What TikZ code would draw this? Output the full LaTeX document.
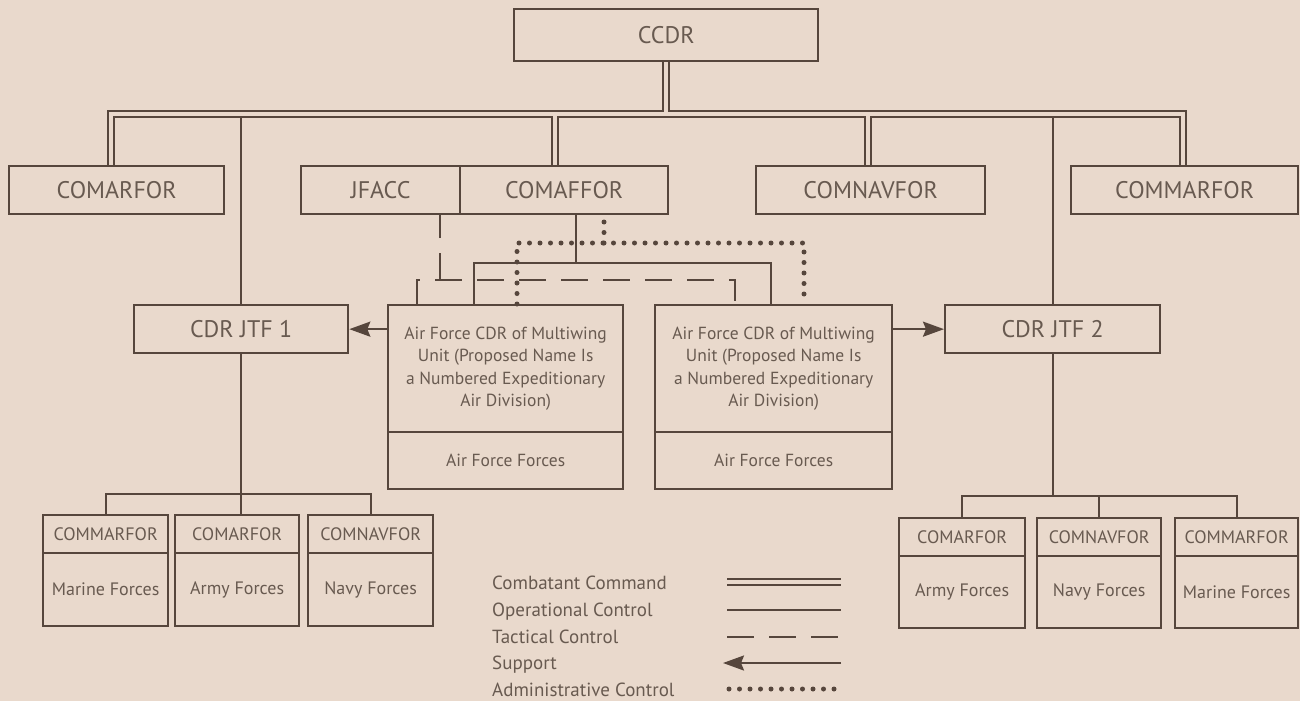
\documentclass[tikz,border=0pt]{standalone}
\usepackage{fontspec}
\setmainfont{PT Sans}
\usetikzlibrary{arrows.meta}
\definecolor{paper}{RGB}{233,217,204}
\definecolor{ink}{RGB}{86,70,60}
\definecolor{txt}{RGB}{104,90,80}
\pgfdeclarelayer{back}
\pgfsetlayers{back,main}
\tikzset{
  box/.style={draw=ink, line width=2.3pt, inner sep=0pt, anchor=north west, align=center, text=txt},
  big/.style={font=\fontsize{24}{28}\selectfont},
  mid/.style={font=\fontsize{17.5}{22.5}\selectfont},
  sml/.style={font=\fontsize{18}{22}\selectfont},
  cmd/.style={draw=ink, line width=2.2pt, double=paper, double distance=3.5pt},
  opc/.style={draw=ink, line width=2.2pt},
  tac/.style={draw=ink, line width=2.2pt, dash pattern=on 27pt off 15pt},
  sup/.style={draw=ink, line width=2.2pt, -{Stealth[length=21pt,width=15pt,inset=3pt]}},
  adm/.style={draw=ink, line width=5pt, line cap=round, dash pattern=on 0pt off 10.5pt},
  legend/.style={anchor=base west, inner sep=0pt, text=txt, font=\fontsize{19}{22}\selectfont},
}
\begin{document}
\begin{tikzpicture}[x=1pt,y=-1pt]
\useasboundingbox (0,0) rectangle (1300,701);

% command level
\node[box,big,minimum width=304pt,minimum height=52pt] (ccdr) at (513,8) {CCDR};
\node[box,big,minimum width=215pt,minimum height=48pt] (comarforT) at (8,165) {COMARFOR};
\node[box,big,minimum width=159pt,minimum height=48pt] (jfacc) at (300,165) {JFACC};
\node[box,big,minimum width=208pt,minimum height=48pt] (comaffor) at (459,165) {COMAFFOR};
\node[box,big,minimum width=229pt,minimum height=48pt] (comnavforT) at (755,165) {COMNAVFOR};
\node[box,big,minimum width=227pt,minimum height=48pt] (commarforT) at (1070,165) {COMMARFOR};

% joint task forces
\node[box,big,minimum width=214pt,minimum height=48pt] (jtf1) at (133,304) {CDR JTF 1};
\node[box,big,minimum width=215pt,minimum height=48pt] (jtf2) at (944,304) {CDR JTF 2};

% air force multiwing units
\node[box,mid,minimum width=235pt,minimum height=127pt] (afc1) at (387,304)
  {Air Force CDR of Multiwing\\Unit (Proposed Name Is\\a Numbered Expeditionary\\Air Division)};
\node[box,mid,minimum width=235pt,minimum height=57pt] (aff1) at (387,431) {Air Force Forces};
\node[box,mid,minimum width=237pt,minimum height=127pt] (afc2) at (654,304)
  {Air Force CDR of Multiwing\\Unit (Proposed Name Is\\a Numbered Expeditionary\\Air Division)};
\node[box,mid,minimum width=237pt,minimum height=57pt] (aff2) at (654,431) {Air Force Forces};

% component forces under JTF 1
\node[box,sml,minimum width=125pt,minimum height=38pt] (lA) at (42,514) {COMMARFOR};
\node[box,sml,minimum width=125pt,minimum height=73pt] (lAf) at (42,552) {Marine Forces};
\node[box,sml,minimum width=124pt,minimum height=38pt] (lB) at (174,514) {COMARFOR};
\node[box,sml,minimum width=124pt,minimum height=73pt] (lBf) at (174,552) {Army Forces};
\node[box,sml,minimum width=125pt,minimum height=38pt] (lC) at (307,514) {COMNAVFOR};
\node[box,sml,minimum width=125pt,minimum height=73pt] (lCf) at (307,552) {Navy Forces};

% component forces under JTF 2
\node[box,sml,minimum width=126pt,minimum height=38pt] (rD) at (898,517) {COMARFOR};
\node[box,sml,minimum width=126pt,minimum height=72pt] (rDf) at (898,555) {Army Forces};
\node[box,sml,minimum width=124pt,minimum height=38pt] (rE) at (1036,517) {COMNAVFOR};
\node[box,sml,minimum width=124pt,minimum height=72pt] (rEf) at (1036,555) {Navy Forces};
\node[box,sml,minimum width=123pt,minimum height=38pt] (rF) at (1174,517) {COMMARFOR};
\node[box,sml,minimum width=123pt,minimum height=72pt] (rFf) at (1174,555) {Marine Forces};

% legend
\node[legend] (lg1) at (492,589) {Combatant Command};
\node[legend] (lg2) at (492,616) {Operational Control};
\node[legend] (lg3) at (492,643) {Tactical Control};
\node[legend] (lg4) at (492,669) {Support};
\node[legend] (lg5) at (492,696) {Administrative Control};

\begin{pgfonlayer}{back}
\fill[paper] (0,0) rectangle (1300,701);

% combatant command tree
\coordinate (busL) at (111,114);
\coordinate (busR) at (1183,114);
\coordinate (busLo) at (0,117.5);
\coordinate (dropAF) at (555,114);
\coordinate (dropNV) at (868,114);
\draw[cmd] (busL |- comarforT.north) -- (busL) -- (busR) -- (busR |- commarforT.north)
  (ccdr.south) -- (ccdr.south |- busL)
  (dropAF) -- (dropAF |- comaffor.north)
  (dropNV) -- (dropNV |- comnavforT.north);

% operational control
\draw[opc] (jtf1.north |- busLo) -- (jtf1.north);
\draw[opc] (jtf2.north |- busLo) -- (jtf2.north);
\coordinate (lbus) at (0,494);
\coordinate (rbus) at (0,496);
\draw[opc] (jtf1.south) -- (jtf1.south |- lB.north);
\draw[opc] (lA.north) |- (lbus -| lC.north) -- (lC.north);
\draw[opc] (jtf2.south) -- (jtf2.south |- rbus);
\draw[opc] (rD.north) |- (rbus -| rF.north) -- (rF.north);
\draw[opc] (rE.north |- rbus) -- (rE.north);
\coordinate (opS) at (576,263);
\coordinate (opL) at (474,263);
\coordinate (opR) at (771,263);
\draw[opc] (opS |- comaffor.south) -- (opS);
\draw[opc] (opL |- afc1.north) -- (opL) -- (opR) -- (opR |- afc2.north);

% tactical control
\coordinate (tcJ) at (440,280);
\coordinate (tcL) at (417,280);
\coordinate (tcR) at (735,280);
\draw[tac] (tcJ) -- (tcJ |- jfacc.south);
\draw[tac] (tcL |- afc1.north) -- (tcL) -- (tcR) -- (tcR |- afc2.north);

% administrative control
\coordinate (adC) at (604,243);
\coordinate (adL) at (517,243);
\coordinate (adR) at (804,243);
\draw[adm] (adC) -- (adC |- comaffor.south);
\draw[adm] (adL |- afc1.north) -- (adL) -- (adR) -- (adR |- afc2.north);

% support
\draw[sup] (afc1.west |- jtf1.east) -- (jtf1.east);
\draw[sup] (afc2.east |- jtf2.west) -- (jtf2.west);

% legend samples
\coordinate (k1a) at (727,582); \coordinate (k1b) at (841,582);
\coordinate (k2a) at (727,610); \coordinate (k2b) at (841,610);
\coordinate (k3a) at (727,637); \coordinate (k3b) at (841,637);
\coordinate (k4a) at (723,663); \coordinate (k4b) at (841,663);
\coordinate (k5a) at (729,689); \coordinate (k5b) at (842,689);
\draw[cmd] (k1a) -- (k1b);
\draw[opc] (k2a) -- (k2b);
\draw[tac] (k3a) -- (k3b);
\draw[sup] (k4b) -- (k4a);
\draw[adm] (k5a) -- (k5b);
\end{pgfonlayer}
\end{tikzpicture}
\end{document}
